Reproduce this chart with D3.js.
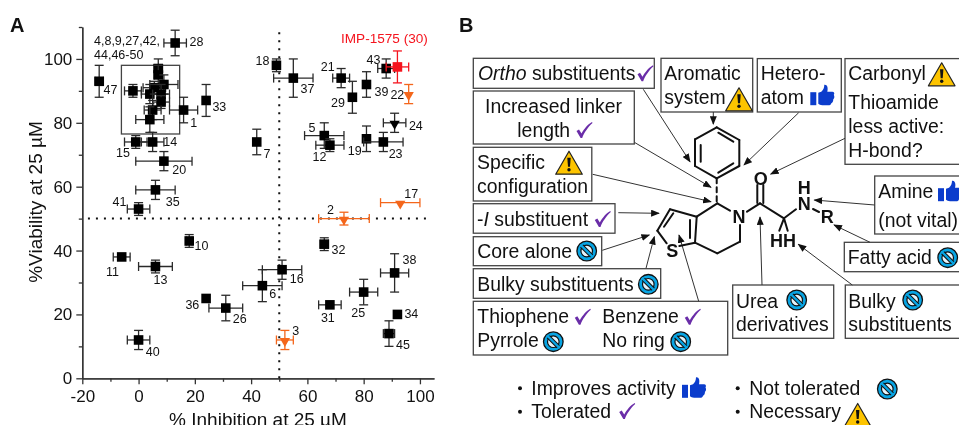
<!DOCTYPE html>
<html><head><meta charset="utf-8">
<script src="https://cdn.jsdelivr.net/npm/d3@7/dist/d3.min.js"></script>
<style>
html,body{margin:0;padding:0;background:#fff;overflow:hidden}
svg{display:block;filter:blur(0.35px)}
text{font-family:"Liberation Sans",Arial,sans-serif;fill:#111}
</style></head><body>
<svg id="c" width="959" height="425"></svg>
<script>
// ---- Data (panel A) ----
const compoundIds  = [47,28,33,1,15,14,20,35,41,18,37,21,29,39,43,5,12,19,23,7,10,11,13,36,26,40,32,16,6,38,25,31,34,45,
                      4,8,9,27,42,44,46,48,49,50, 22,24,17,2,3, 30];
const inhibition   = [-14,13,24,16,-1,5,9,6,0,49,55,72,76,81,88,66,68,81,87,42,18,-6,6,24,31,0,66,51,44,91,80,68,92,89,
                      7,7,-2,4,5.6,9,8,8,5,4, 96,91,93,73,52, 92];
const viability    = [93,105,87,84,74,74,68,59,53,98,94,94,88,92,97,76,73,75,74,74,43,38,35,25,22,12,42,34,29,33,27,23,20,14,
                      97,95,90,89,91,92,89,86.5,84,81, 89,80,55,50,12, 97.5];
const inhibitionErr= [1.5,4,0,5,4,4,10,7,4,1,7,3,0,0,3,7,5,0,7,0,1,3,6,0,6,4,1.5,7,7,5,5,4,0,2,
                      1.5,1.5,3,3,4,5,3,3,3,5, 0,4,7,9,3, 4];
const viabilityErr = [5,4,5,4,2,3,3,3,2,2,6,3,5,4,3,4,2,4,3,4,2,0,2,0,4,3,2,3,5,6,4,0,0,4,
                      3,3,2,3,2,3,3,2,3,4, 3,3,0,2,3, 5];
const markerGroups = {orange:[22,17,2,3], triangleBlack:[24], red:[30]};
const xMajor=[-20,0,20,40,60,80,100], xMinor=[-10,10,30,50,70,90];
const yMajor=[0,20,40,60,80,100], yMinor=[10,30,50,70,90,110];
const clusterLines=["4,8,9,27,42,","44,46-50"];
const hiddenLabels=[4,8,9,27,42,44,46,48,49,50,30];
// label offsets from marker centre (layout only)
const labelOffset={28:[14.3,3],47:[4.3,12.7],33:[6.3,11],1:[6.7,16.7],15:[-19.7,15.3],14:[10.7,4],20:[8.3,12.7],35:[10.3,16],41:[-26,-3.3],
18:[-21,0],37:[7.3,15.3],21:[-20.3,-7],29:[-21.3,10],39:[8,11.7],43:[-19.7,-5],22:[-18.3,4.7],24:[14.3,6.7],5:[-15.7,-4],12:[-17.3,16.3],19:[-18.7,16.7],23:[5.3,15.7],7:[6.7,15.7],17:[4,-5],2:[-17,-4.3],
10:[5.3,9.3],11:[-15.7,19],13:[-2,17],36:[-20.7,10.7],26:[7,15],40:[7.3,15.7],32:[7.3,10.3],16:[7.7,13.3],6:[7,12.3],38:[8,-8.7],25:[-12.3,24.7],31:[-9,17],34:[7,3.7],45:[7,15.7],3:[7.3,-5]};

const svg=d3.select("#c");
const x=d3.scaleLinear().domain([-20,105]).range([82.3,434]);
const y=d3.scaleLinear().domain([0,110]).range([378.3,27]);
const orange="#f4661b", red="#f5141e";

const A=svg.append("g");
A.append("text").attr("x",10).attr("y",32).attr("font-weight","bold").attr("font-size",20).text("A");

const hyphenFmt=d=>String(d);
function style(g){g.selectAll("path,line").attr("stroke","#333").attr("stroke-width",1.3);
  g.selectAll("text").attr("font-size",17).attr("font-family",'"Liberation Sans"').attr("fill","#111");}
A.append("g").attr("transform",`translate(0,${y(0)})`).call(d3.axisBottom(x).tickValues(xMajor).tickSize(6).tickSizeOuter(0).tickPadding(6).tickFormat(hyphenFmt)).call(style);
A.append("g").attr("transform",`translate(0,${y(0)})`).call(d3.axisBottom(x).tickValues(xMinor).tickSize(3.5).tickSizeOuter(0).tickFormat("")).call(style);
A.append("g").attr("transform",`translate(${x(-20)},0)`).call(d3.axisLeft(y).tickValues(yMajor).tickSize(6).tickSizeOuter(0).tickPadding(4).tickFormat(hyphenFmt)).call(style);
A.append("g").attr("transform",`translate(${x(-20)},0)`).call(d3.axisLeft(y).tickValues(yMinor).tickSize(3.5).tickSizeOuter(0).tickFormat("")).call(style);

A.append("text").attr("x",258).attr("y",426).attr("text-anchor","middle").attr("font-size",19).text("% Inhibition at 25 µM");
A.append("text").attr("transform","translate(42,202) rotate(-90)").attr("text-anchor","middle").attr("font-size",19).text("%Viability at 25 µM");

// dotted threshold lines
A.append("line").attr("x1",x(-18)).attr("x2",x(104)).attr("y1",y(50)).attr("y2",y(50)).attr("stroke","#111").attr("stroke-width",2).attr("stroke-dasharray","2 6");
A.append("line").attr("x1",x(50)).attr("x2",x(50)).attr("y1",y(0)).attr("y2",y(110)).attr("stroke","#111").attr("stroke-width",2).attr("stroke-dasharray","2 6");

// cluster box
A.append("rect").attr("x",x(-6.1)).attr("y",y(98)).attr("width",x(14.6)-x(-6.1)).attr("height",y(76.5)-y(98)).attr("fill","none").attr("stroke","#444").attr("stroke-width",1.3);

const pts=compoundIds.map((id,i)=>({id,x:inhibition[i],y:viability[i],xe:inhibitionErr[i],ye:viabilityErr[i]}));
const colorOf=d=>markerGroups.red.includes(d.id)?red:markerGroups.orange.includes(d.id)?orange:"#000";
const triangle=d=>markerGroups.orange.includes(d.id)||markerGroups.triangleBlack.includes(d.id);
const cap=4.5;
const g=A.selectAll("g.pt").data(pts).join("g").attr("class","pt");
g.each(function(d){
  const s=d3.select(this), c=colorOf(d), px=x(d.x), py=y(d.y), line=(a,b,e,f)=>s.append("line").attr("x1",a).attr("y1",b).attr("x2",e).attr("y2",f).attr("stroke",c==="#000"?"#2a2a2a":c).attr("stroke-width",1.3);
  if(d.xe>0){const l=x(d.x-d.xe),r=x(d.x+d.xe);line(l,py,r,py);line(l,py-cap,l,py+cap);line(r,py-cap,r,py+cap);}
  if(d.ye>0){const t=y(d.y+d.ye),b=y(d.y-d.ye);line(px,t,px,b);line(px-cap,t,px+cap,t);line(px-cap,b,px+cap,b);}
  if(triangle(d)) s.append("path").attr("d",d3.symbol(d3.symbolTriangle,46)()).attr("transform",`translate(${px},${py+1}) rotate(180)`).attr("fill",c);
  else s.append("path").attr("d",d3.symbol(d3.symbolSquare,92)()).attr("transform",`translate(${px},${py})`).attr("fill",c);
});
A.selectAll("text.lab").data(pts.filter(d=>!hiddenLabels.includes(d.id))).join("text").attr("class","lab")
  .attr("x",d=>x(d.x)+labelOffset[d.id][0]).attr("y",d=>y(d.y)+labelOffset[d.id][1]).attr("font-size",12.5).text(d=>d.id);
clusterLines.forEach((t,i)=>A.append("text").attr("x",94).attr("y",45+i*14).attr("font-size",12.5).text(t));
A.append("text").attr("x",341).attr("y",43).attr("font-size",13.6).style("fill",red).text("IMP-1575 (30)");

// ---- Panel B ----
const B=svg.append("g");
B.append("text").attr("x",459).attr("y",32).attr("font-weight","bold").attr("font-size",20).text("B");
const boxes=[[473.3,58.3,181,30],[473.3,91,161,53],[473.3,147.3,118.5,53.7],[473.3,203.7,141.7,29.5],[473.3,236.7,128.4,29],[473.3,268.7,187.4,29.6],[473.3,301.3,254.4,53.7],
[661,58.3,91.7,53.7],[757.3,58.6,84,53.4],[845,58.6,130,105.7],[874.7,176,100,58],[844.3,242.3,130,29.4],[845.3,285,130,53.3],[732.7,285,101,53.3]];
boxes.forEach(b=>B.append("rect").attr("x",b[0]).attr("y",b[1]).attr("width",b[2]).attr("height",b[3]).attr("fill","#fff").attr("stroke","#444").attr("stroke-width",1.3));
const T=(s,tx,ty,anchor)=>B.append("text").attr("x",tx).attr("y",ty).attr("font-size",19.4).attr("text-anchor",anchor||"start").text(s);
const ortho=T("",478,80); ortho.append("tspan").attr("font-style","italic").text("Ortho"); ortho.append("tspan").text(" substituents");
T("Increased linker",553.5,112.7,"middle");T("length",517.3,136.7);
T("Specific",477,169.3);T("configuration",477,192.7);
const inh=T("",477,225.7);inh.append("tspan").text("-");inh.append("tspan").attr("font-style","italic").text("I");inh.append("tspan").text(" substituent");
T("Core alone",477.3,258.3);T("Bulky substituents",477.3,290.7);
T("Thiophene",477.3,323.3);T("Benzene",602.3,323.3);T("Pyrrole",477.3,346.7);T("No ring",602.3,346.7);
T("Aromatic",664.3,80);T("system",664.3,104);T("Hetero-",760.7,80);T("atom",760.7,104);
T("Carbonyl",848.3,80);T("Thioamide",848.3,109);T("less active:",848.3,132.7);T("H-bond?",848.3,156.7);
T("Amine",878.3,198.3);T("(not vital)",878.3,226.7);T("Fatty acid",847.7,264.3);
T("Urea",736,307.7);T("derivatives",736,331);T("Bulky",848.3,307.7);T("substituents",848.3,331);
T("Improves activity",531.3,395);T("Tolerated",531.3,418);T("Not tolerated",749.3,395);T("Necessary",749.3,418);
[[520,388.3],[520,411.7],[737.7,388.3],[737.7,411.7]].forEach(p=>B.append("circle").attr("cx",p[0]).attr("cy",p[1]).attr("r",2).attr("fill","#111"));

// icons
function check(cx,cy){B.append("path").attr("transform",`translate(${cx},${cy})`).attr("fill","#6a2da8").attr("d","M-7.5,1 L-5,-0.5 L-2.5,3.5 C0,-1 4,-6 8,-8 L8.5,-7 C4,-3 0,3 -1.8,8 L-3.4,8 Z");}
function thumb(cx,cy){const s=B.append("g").attr("transform",`translate(${cx},${cy})`).attr("fill","#0b3ccc");
  s.append("rect").attr("x",-12).attr("y",-3.5).attr("width",6).attr("height",13);
  s.append("path").attr("d","M-4,-3 L-1,-4 C1,-6 2,-8 2,-11 C5,-11.5 6,-8 5,-4 L10,-4 C12,-4 12.5,-2 11.5,-1 C12.5,1 12,3 11,3.5 C11,6 10,7 9,7.5 C8.5,9 8,9.5 6,9.5 L0,9.5 C-2,9.5 -3,8.5 -4,8 Z");}
function no(cx,cy){const s=B.append("g").attr("transform",`translate(${cx},${cy})`);
  s.append("circle").attr("r",9.8).attr("fill","#08a5e4").attr("stroke","#111").attr("stroke-width",1.3);
  s.append("circle").attr("r",5.8).attr("fill","#e4f4fb").attr("stroke","#111").attr("stroke-width",1.2);
  s.append("line").attr("x1",-5).attr("y1",-5).attr("x2",5).attr("y2",5).attr("stroke","#111").attr("stroke-width",4.4);
  s.append("line").attr("x1",-6.4).attr("y1",-6.4).attr("x2",6.4).attr("y2",6.4).attr("stroke","#08a5e4").attr("stroke-width",2.3);}
function warn(cx,cy){const s=B.append("g").attr("transform",`translate(${cx},${cy})`);
  s.append("path").attr("d","M0,-11.5 L13.3,11.5 L-13.3,11.5 Z").attr("fill","#fdc400").attr("stroke","#222").attr("stroke-width",1.2).attr("stroke-linejoin","round");
  s.append("path").attr("d","M-1.7,-5 L1.7,-5 L1,4 L-1,4 Z").attr("fill","#111");
  s.append("circle").attr("cy",7).attr("r",1.7).attr("fill","#111");}
[[645,73.3],[584,130],[602.3,219],[582.3,316.7],[692.3,316.7],[626.7,411]].forEach(p=>check(...p));
[[822.3,95.7],[950,191.7],[694,388.3]].forEach(p=>thumb(...p));
[[586.7,251],[648.3,284.3],[553.3,341.7],[680.7,341.7],[947.7,257.7],[796.7,300],[912.7,300],[887.3,389]].forEach(p=>no(...p));
[[569,162.7],[739,99.3],[941.7,74.3],[857.7,415]].forEach(p=>warn(...p));

// arrows
const defs=svg.append("defs");
defs.append("marker").attr("id","ah").attr("viewBox","0 0 10 8").attr("refX",9).attr("refY",4).attr("markerUnits","userSpaceOnUse").attr("markerWidth",9).attr("markerHeight",7).attr("orient","auto")
  .append("path").attr("d","M0,0 L10,4 L0,8 Z").attr("fill","#111");
[[643.3,89.3,690,161.7],[635,142.7,711,187.3],[592.7,174.3,711,201.7],[618.3,212.7,659,213.3],[602.3,250.3,649.3,235],[646,268.3,654.3,236.7],[698.7,301.3,679,235],
 [713.3,112,713.3,124],[798.7,112.7,744,165],[845,138.3,770.7,174],[874.7,205,814.3,200],[870,242.3,834,225],[852.3,285,798.3,244.3],[762,285,760,217]]
 .forEach(a=>B.append("line").attr("x1",a[0]).attr("y1",a[1]).attr("x2",a[2]).attr("y2",a[3]).attr("stroke","#333").attr("stroke-width",1).attr("marker-end","url(#ah)"));

// molecule
const bond=(a,b,e,f,dash)=>{const l=B.append("line").attr("x1",a).attr("y1",b).attr("x2",e).attr("y2",f).attr("stroke","#111").attr("stroke-width",2).attr("stroke-linecap","round");if(dash)l.attr("stroke-dasharray","5 4");};
const chain=pts=>pts.slice(1).forEach((p,i)=>bond(pts[i][0],pts[i][1],p[0],p[1]));
chain([[695,139.3],[716.7,127.3],[739.3,140],[739.3,166],[716.7,178.3],[695,166],[695,139.3]]);
bond(700.7,145,700.7,161.7);bond(718.3,132.7,733.3,141.7);bond(718.3,172.7,733.3,163.3);
bond(716.7,178.3,716.7,203.3,true);
chain([[730,210.7],[717.3,203.3],[696.7,216.7],[695,242.7],[717.3,253.3],[740,241.7],[740,225]]);
bond(690,220,690,238);
chain([[696.7,216.7],[670,209.3],[657.3,230.7],[666.7,243.3]]);bond(664,226.7,673.3,213.3);bond(679.3,246,695,242.7);
bond(747,211.7,760,203.3);bond(757.3,203,757.3,185);bond(763.3,203,763.3,185);
chain([[760,203.3],[784,218.3],[796,209.3]]);bond(813,209,819,212);
bond(784,218.3,779.3,230.7);bond(784,218.3,787.7,230.7);
[["O",760.7,184.5],["N",739,222.5],["N",804.3,210],["H",804.3,194],["R",827.3,223],["S",672.3,256.5],["HH",783,247]]
 .forEach(a=>B.append("text").attr("x",a[1]).attr("y",a[2]).attr("text-anchor","middle").attr("font-weight","bold").attr("font-size",18).text(a[0]));
</script></body></html>
